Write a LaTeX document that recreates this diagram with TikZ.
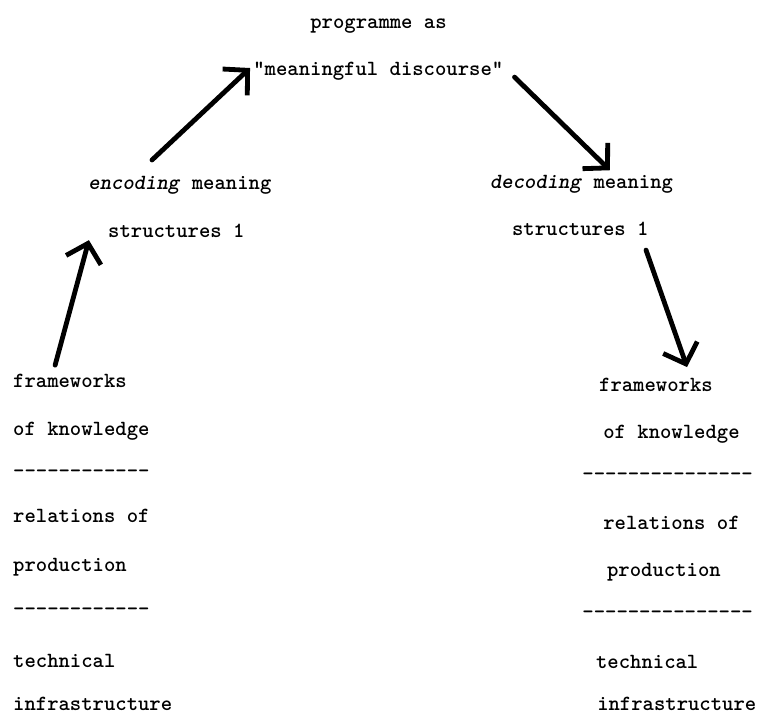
\documentclass[tikz,border=0pt]{standalone}
\usetikzlibrary{arrows.meta}
\tikzset{
    typed/.style={anchor=base west, inner sep=0pt, font=\fontsize{16.2}{19}\selectfont\ttfamily\bfseries},
    codearrow/.style={-{Straight Barb[length=13pt, width=27pt]}, line width=3.6pt, line cap=round}
}
\newcommand{\dashrow}[1]{\foreach \dd in {1,...,#1}{-}}

\begin{document}
\begin{tikzpicture}
    \useasboundingbox (0,0) rectangle (20,18.82);

    \node[typed] (prog) at (8.16,18.08) {programme as};
    \node[typed] (disc) at (6.66,16.84) {"meaningful discourse"};

    \node[typed] (enc) at (2.32,13.82) {\textit{encoding} meaning};
    \node[typed] (strl) at (2.84,12.58) {structures 1};
    \node[typed] (dec) at (12.89,13.87) {\textit{decoding} meaning};
    \node[typed] (strr) at (13.47,12.63) {structures 1};

    \node[typed] (fwl) at (0.34,8.61) {frameworks};
    \node[typed] (knl) at (0.34,7.37) {of knowledge};
    \node[typed] (dla) at (0.34,6.26) {\dashrow{12}};
    \node[typed] (rell) at (0.34,5.08) {relations of};
    \node[typed] (prl) at (0.34,3.79) {production};
    \node[typed] (dlb) at (0.34,2.61) {\dashrow{12}};
    \node[typed] (tecl) at (0.34,1.26) {technical};
    \node[typed] (infl) at (0.34,0.12) {infrastructure};

    \node[typed] (fwr) at (15.76,8.53) {frameworks};
    \node[typed] (knr) at (15.87,7.29) {of knowledge};
    \node[typed] (dra) at (15.32,6.18) {\dashrow{15}};
    \node[typed] (relr) at (15.87,4.89) {relations of};
    \node[typed] (prr) at (15.97,3.66) {production};
    \node[typed] (drb) at (15.32,2.55) {\dashrow{15}};
    \node[typed] (tecr) at (15.68,1.24) {technical};
    \node[typed] (infr) at (15.71,0.12) {infrastructure};

    \draw[codearrow] ([shift={(1.11,0.60)}]fwl.base west) -- ([shift={(-0.50,-0.08)}]strl.base west);
    \draw[codearrow] ([shift={(1.68,0.79)}]enc.base west) -- ([shift={(-0.08,0.19)}]disc.base west);
    \draw[codearrow] ([shift={(0.29,-0.05)}]disc.base east) -- ([shift={(3.16,0.47)}]dec.base west);
    \draw[codearrow] ([shift={(3.53,-0.39)}]strr.base west) -- ([shift={(2.32,0.63)}]fwr.base west);
\end{tikzpicture}
\end{document}
